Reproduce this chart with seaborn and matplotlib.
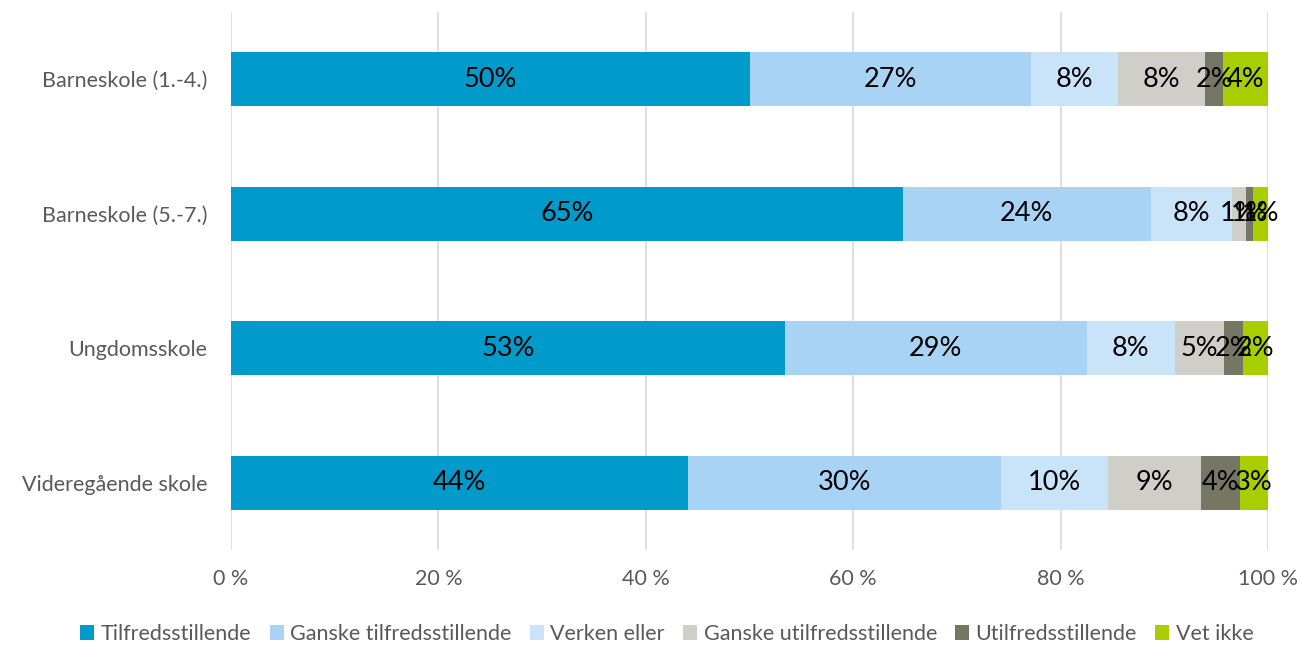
import numpy as np
import pandas as pd
import seaborn as sns
import matplotlib.pyplot as plt
from matplotlib.patches import Patch

# data
skoler = ['Barneskole (1.-4.)', 'Barneskole (5.-7.)', 'Ungdomsskole', 'Videregående skole']
kategorier = ['Tilfredsstillende', 'Ganske tilfredsstillende', 'Verken eller',
              'Ganske utilfredsstillende', 'Utilfredsstillende', 'Vet ikke']
tilfreds = [50.0, 64.8, 53.4, 44.1]
ganske_tilfreds = [27.1, 23.9, 29.1, 30.2]
verken = [8.4, 7.8, 8.5, 10.3]
ganske_utilfreds = [8.4, 1.4, 4.8, 8.9]
utilfreds = [1.8, 0.7, 1.8, 3.8]
vet_ikke = [4.3, 1.4, 2.4, 2.7]
farger = ['#009ACB', '#A9D3F4', '#C9E3F8', '#D0CEC8', '#767665', '#A8CE00']

sns.set_theme(style='white')
plt.rcParams['font.family'] = ['Lato', 'DejaVu Sans']

df = pd.DataFrame({'skole': skoler})
serier = [tilfreds, ganske_tilfreds, verken, ganske_utilfreds, utilfreds, vet_ikke]
cum = np.cumsum(np.array(serier), axis=0)
for i, k in enumerate(kategorier):
    df[k] = cum[i]

fig = plt.figure(figsize=(13.01, 6.45), dpi=100)
ax = fig.add_axes([231 / 1301, 1 - 550 / 645, (1268 - 231) / 1301, (550 - 12) / 645])

# draw largest cumulative first so the shorter ones sit on top
for i in reversed(range(len(kategorier))):
    sns.barplot(data=df, x=kategorier[i], y='skole', color=farger[i], width=0.4,
                saturation=1, ax=ax, edgecolor='none', linewidth=0, zorder=3)

for i in range(len(kategorier)):
    for j in range(len(skoler)):
        v = serier[i][j]
        ax.text(cum[i][j] - v / 2, j, f'{v:.0f}%', ha='center', va='center',
                fontsize=19.5, color='black', zorder=5)

ax.set_xlim(0, 100)
ax.set_ylim(3.5, -0.5)
ax.set_xticks([0, 20, 40, 60, 80, 100])
ax.set_xticklabels([f'{t} %' for t in [0, 20, 40, 60, 80, 100]])
ax.xaxis.grid(True, color='#D9D9D9', linewidth=1.2, zorder=0)
ax.set_axisbelow(True)
ax.set_xlabel('')
ax.set_ylabel('')
for s in ax.spines.values():
    s.set_visible(False)
ax.tick_params(axis='both', length=0, labelsize=15.5, colors='#595959')
ax.tick_params(axis='y', pad=17)
ax.tick_params(axis='x', pad=14)

handles = [Patch(facecolor=c, edgecolor='none') for c in farger]
fig.legend(handles, kategorier, loc='center', bbox_to_anchor=(667 / 1301, 1 - 634 / 645), ncol=6,
           frameon=False, fontsize=15.5, labelcolor='#595959', handlelength=0.65,
           handleheight=0.65, handletextpad=0.3, columnspacing=0.85)

fig.savefig('out.png', dpi=100)
